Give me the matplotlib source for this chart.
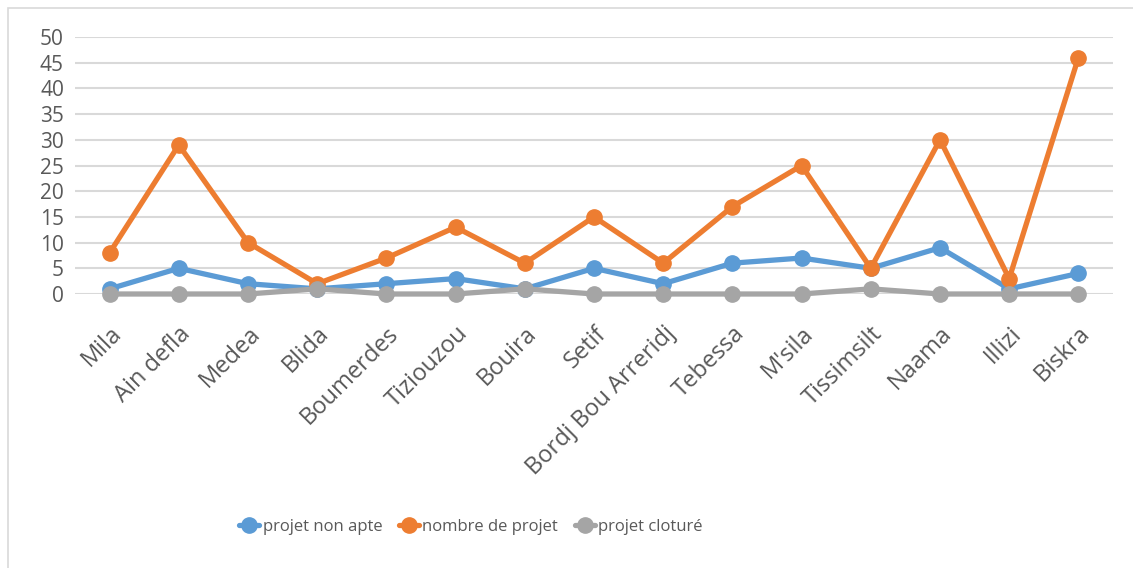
import matplotlib
matplotlib.use('Agg')
import matplotlib.pyplot as plt
from matplotlib.patches import Rectangle

wilayas = ['Mila', 'Ain defla', 'Medea', 'Blida', 'Boumerdes', 'Tiziouzou', 'Bouira',
           'Setif', 'Bordj Bou Arreridj', 'Tebessa', "M'sila", 'Tissimsilt', 'Naama',
           'Illizi', 'Biskra']
non_apte = [1, 5, 2, 1, 2, 3, 1, 5, 2, 6, 7, 5, 9, 1, 4]
nombre = [8, 29, 10, 2, 7, 13, 6, 15, 6, 17, 25, 5, 30, 3, 46]
cloture = [0, 0, 0, 1, 0, 0, 1, 0, 0, 0, 0, 1, 0, 0, 0]
yticks = list(range(0, 51, 5))

plt.rcParams['font.family'] = ['Open Sans', 'DejaVu Sans']
txt = '#595959'

fig = plt.figure(figsize=(11.33, 5.68), dpi=100)
ax = fig.add_axes([75 / 1133, 1 - 294 / 568, 1038 / 1133, 257 / 568])

# cadre léger autour du graphique
fig.patches.append(Rectangle((8 / 1133, -0.01), 1.0, 1.0 - 8 / 568 + 0.01,
                             transform=fig.transFigure, fill=False,
                             edgecolor='#D9D9D9', lw=1.2))

x = list(range(len(wilayas)))
series = [
    (non_apte, '#5B9BD5', 'projet non apte'),
    (nombre, '#ED7D31', 'nombre de projet'),
    (cloture, '#A5A5A5', 'projet cloturé'),
]
for vals, col, lab in series:
    ax.plot(x, vals, color=col, lw=3.8, marker='o', ms=11, label=lab,
            clip_on=False, solid_capstyle='round', solid_joinstyle='round')

ax.set_xlim(-0.5, len(wilayas) - 0.5)
ax.set_ylim(0, 50)
ax.set_yticks(yticks)
ax.set_yticklabels([str(v) for v in yticks], fontsize=15, color=txt)
ax.set_xticks(x)
ax.set_xticklabels(wilayas, rotation=45, ha='right', rotation_mode='anchor',
                   fontsize=17, color=txt)
ax.tick_params(axis='x', length=0, pad=20)
ax.tick_params(axis='y', length=0, pad=8)
ax.grid(axis='y', color='#D9D9D9', lw=1.5)
ax.set_axisbelow(True)
for sp in ax.spines.values():
    sp.set_visible(False)

fig.legend(loc='center', bbox_to_anchor=(471 / 1133, 1 - 527 / 568), ncol=3,
           frameon=False, fontsize=12, handlelength=1.2, columnspacing=1.0,
           handletextpad=0.2, labelcolor=txt)

plt.savefig('out.png', dpi=100)
plt.close()
